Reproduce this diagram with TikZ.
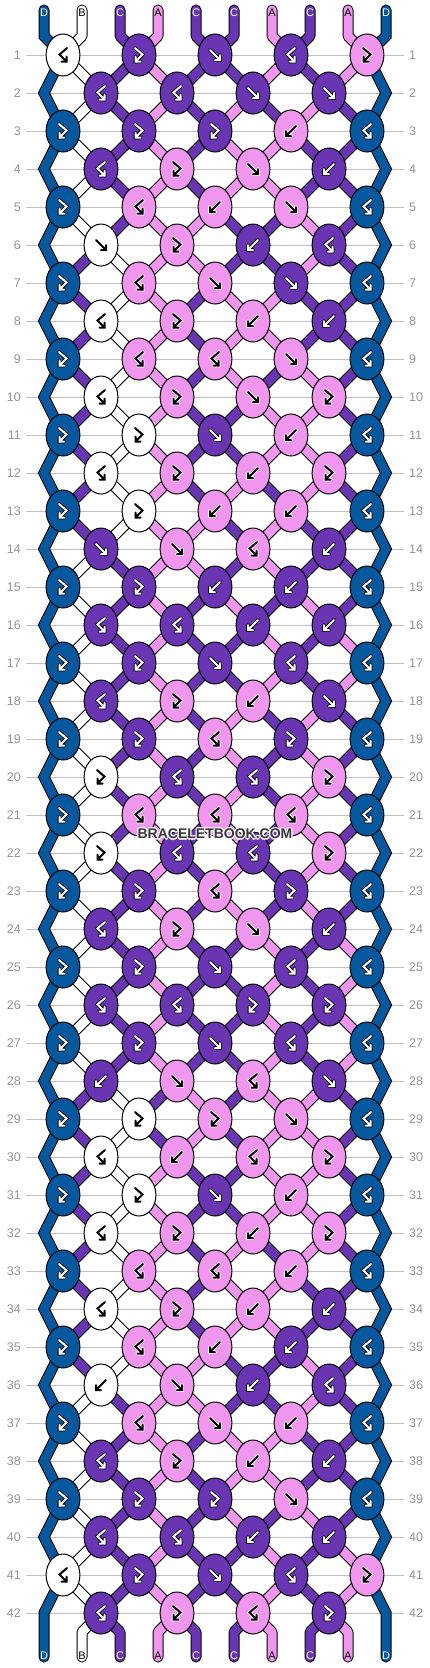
\documentclass[tikz,border=0pt]{standalone}
\usepackage{fontspec}
\setmainfont{Liberation Sans}
\usetikzlibrary{shapes.geometric}
\definecolor{cD}{RGB}{5,88,158}
\definecolor{cB}{RGB}{255,255,255}
\definecolor{cC}{RGB}{106,53,178}
\definecolor{cA}{RGB}{240,150,238}
\definecolor{gridgray}{RGB}{192,192,192}
\definecolor{numgray}{RGB}{150,150,150}
\definecolor{wmgray}{RGB}{55,55,55}
\newif\ifknotpass
\newcommand\SetS[2]{\expandafter\xdef\csname S#1\endcsname{#2}}
\newcommand\StrPath[2]{\draw[strout] #2; \draw[strin, draw=c#1] #2;}
\newcommand\glyphdraw[1]{\draw[gout, draw=\gout] #1; \draw[gin, draw=\gcol] #1;}
\newcommand\drawglyph{\expandafter\glyphdraw\expandafter{\gp}}
\newcommand\InitStrings{\foreach \LL [count=\ii from 0] in {D,B,C,A,C,C,A,C,A,D}{\SetS{\ii}{\LL}}}
\def\RowList{%
{B,F,f,B,F},{B,B,f,f},{F,F,F,b,B},{B,F,f,b},{F,B,b,f,B},{f,F,b,B},{F,B,f,f,B},{B,F,b,b},{F,B,B,f,B},{B,F,f,F},%
{F,F,f,b,B},{B,F,b,F},{F,F,b,b,B},{f,f,B,b},{F,F,b,b,B},{B,B,b,b},{F,F,f,B,B},{B,F,b,f},{F,F,B,F,B},{F,B,B,F},%
{F,B,B,B,B},{F,B,B,F},{F,F,B,F,B},{B,F,f,b},{F,F,f,B,B},{B,B,F,F},{F,F,f,B,B},{b,f,B,f},{F,F,F,f,B},{B,b,B,F},%
{F,F,f,b,B},{B,F,b,F},{F,B,B,b,B},{B,F,b,b},{F,B,b,b,B},{b,f,b,B},{F,B,f,b,B},{B,F,b,b},{F,F,F,f,B},{B,B,b,b},%
{B,F,f,B,F},{B,F,B,F}}
\newcommand\RunRows{%
\foreach \types [count=\rr] in \RowList {%
  \pgfmathtruncatemacro\prevr{\rr-1}%
  \ifknotpass\else
  \ifnum\rr>1
    \foreach \pp in {1,...,8}{%
      \ifodd\rr\relax
        \pgfmathtruncatemacro\KI{floor(\pp/2)}%
        \pgfmathtruncatemacro\KP{floor((\pp-1)/2)}%
      \else
        \pgfmathtruncatemacro\KI{floor((\pp-1)/2)}%
        \pgfmathtruncatemacro\KP{floor(\pp/2)}%
      \fi
      \edef\SC{\csname S\pp\endcsname}%
      \StrPath{\SC}{(n-\prevr-\KP) -- (n-\rr-\KI)}%
    }%
  \fi
  \fi
  \foreach \ty [count=\kk from 0] in \types {%
    \ifodd\rr\relax\pgfmathtruncatemacro\pp{2*\kk}\else\pgfmathtruncatemacro\pp{2*\kk+1}\fi
    \pgfmathtruncatemacro\qq{\pp+1}%
    \edef\Lc{\csname S\pp\endcsname}%
    \edef\Rc{\csname S\qq\endcsname}%
    \def\isfwd{0}\def\isswap{0}%
    \if\ty f\def\isfwd{1}\def\isswap{1}\fi
    \if\ty F\def\isfwd{1}\fi
    \if\ty b\def\isswap{1}\fi
    \ifknotpass
      \ifnum\isfwd=1 \let\KC\Lc\else\let\KC\Rc\fi
      \def\gcol{black}\def\gout{white}%
      \if\KC C\def\gcol{white}\def\gout{black}\fi
      \if\KC D\def\gcol{white}\def\gout{black}\fi
      \node[knot, fill=c\KC] (k-\rr-\kk) at (n-\rr-\kk) {};
      \if\ty f\def\gp{(-5,-5) -- (5,5) (0,5) -- (5,5) -- (5,0)}\fi
      \if\ty b\def\gp{(5,-5) -- (-5,5) (0,5) -- (-5,5) -- (-5,0)}\fi
      \if\ty F\def\gp{(-4,-7) -- (3.5,-0.5) -- (-3.5,6.5) (1.5,6.5) -- (-3.5,6.5) -- (-3.5,1.5)}\fi
      \if\ty B\def\gp{(4,-7) -- (-3.5,-0.5) -- (3.5,6.5) (-1.5,6.5) -- (3.5,6.5) -- (3.5,1.5)}\fi
      \begin{scope}[shift={(n-\rr-\kk)}]
        \drawglyph
      \end{scope}
    \fi
    \ifnum\isswap=1
      \SetS{\pp}{\Rc}\SetS{\qq}{\Lc}%
    \fi
  }%
}}
\begin{document}
\begin{tikzpicture}[x=1pt,y=-1pt,
  strout/.style={line width=11pt, draw=black, line cap=round, line join=round},
  strin/.style={line width=9pt, line cap=round, line join=round},
  edgeout/.style={line width=11pt, draw=black, line cap=round, line join=miter},
  edgein/.style={line width=9pt, draw=cD, line cap=round, line join=miter},
  knot/.style={ellipse, draw=black, line width=1pt, minimum width=33.8pt, minimum height=42pt, inner sep=0pt},
  gout/.style={line width=3.6pt, line cap=round, line join=miter},
  gin/.style={line width=2pt, line cap=round, line join=miter},
  rownum/.style={text=numgray, font=\fontsize{12.5}{14}\selectfont, inner sep=0pt},
  lab/.style={font=\fontsize{11}{12}\selectfont, inner sep=0pt},
  gridline/.style={draw=gridgray, line width=1pt},
  wm/.style={font=\bfseries\fontsize{14}{16}\selectfont, inner sep=0pt}]
\useasboundingbox (0,0) rectangle (430,1668);
\fill[white] (0,0) rectangle (430,1668);
% grid, row numbers, knot positions
\foreach \rr in {1,...,42}{%
  \pgfmathsetmacro\yy{55+38*(\rr-1)}%
  \ifodd\rr\relax
    \foreach \kk in {0,...,4}{\coordinate (n-\rr-\kk) at ({63+76*\kk},\yy);}%
    \coordinate (tl-\rr) at (44,\yy+38);
    \coordinate (tr-\rr) at (386,\yy+38);
  \else
    \foreach \kk in {0,...,3}{\coordinate (n-\rr-\kk) at ({101+76*\kk},\yy);}%
  \fi
  \draw[gridline] (26,\yy) -- (404,\yy);
  \node[rownum, anchor=east] (ln-\rr) at (21,\yy) {\rr};
  \node[rownum, anchor=west] (rn-\rr) at (409,\yy) {\rr};
}
% edge strings
\draw[edgeout] (44,10) -- (44,36) \foreach \rr in {1,3,...,41}{ -- (n-\rr-0) -- (tl-\rr)} -- (44,1657);
\draw[edgein] (44,10) -- (44,36) \foreach \rr in {1,3,...,41}{ -- (n-\rr-0) -- (tl-\rr)} -- (44,1657);
\draw[edgeout] (386,10) -- (386,36) \foreach \rr in {1,3,...,41}{ -- (n-\rr-4) -- (tr-\rr)} -- (386,1657);
\draw[edgein] (386,10) -- (386,36) \foreach \rr in {1,3,...,41}{ -- (n-\rr-4) -- (tr-\rr)} -- (386,1657);
% pass 1: strings
\InitStrings
\foreach \pp in {1,...,8}{%
  \pgfmathsetmacro\xp{44+38*\pp}%
  \pgfmathtruncatemacro\KI{floor(\pp/2)}%
  \edef\SC{\csname S\pp\endcsname}%
  \StrPath{\SC}{(\xp,10) -- (\xp,36) -- (n-1-\KI)}%
}
\knotpassfalse
\RunRows
\foreach \pp in {1,...,8}{%
  \pgfmathsetmacro\xp{44+38*\pp}%
  \pgfmathtruncatemacro\KI{floor((\pp-1)/2)}%
  \edef\SC{\csname S\pp\endcsname}%
  \StrPath{\SC}{(n-42-\KI) -- (\xp,1632) -- (\xp,1657)}%
}
% labels
\foreach \LL [count=\ii from 0] in {D,B,C,A,C,C,A,C,A,D}{%
  \def\tc{black}\if\LL C\def\tc{white}\fi\if\LL D\def\tc{white}\fi
  \node[lab, text=\tc] (top\ii) at ({44+38*\ii},13) {\LL};
  \node[lab, text=\tc] (bot\ii) at ({44+38*\ii},1655.5) {\LL};
}
% pass 2: knots
\InitStrings
\knotpasstrue
\RunRows
% watermark
\foreach \dx/\dy [count=\ii] in {-1.2/0,1.2/0,0/-1.2,0/1.2,-0.9/-0.9,0.9/0.9,-0.9/0.9,0.9/-0.9}{%
  \node[wm, text=white, opacity=0.75] (wmh\ii) at (215+\dx,834+\dy) {BRACELETBOOK.COM};
}
\node[wm, text=wmgray] (wm) at (215,834) {BRACELETBOOK.COM};
\end{tikzpicture}
\end{document}
